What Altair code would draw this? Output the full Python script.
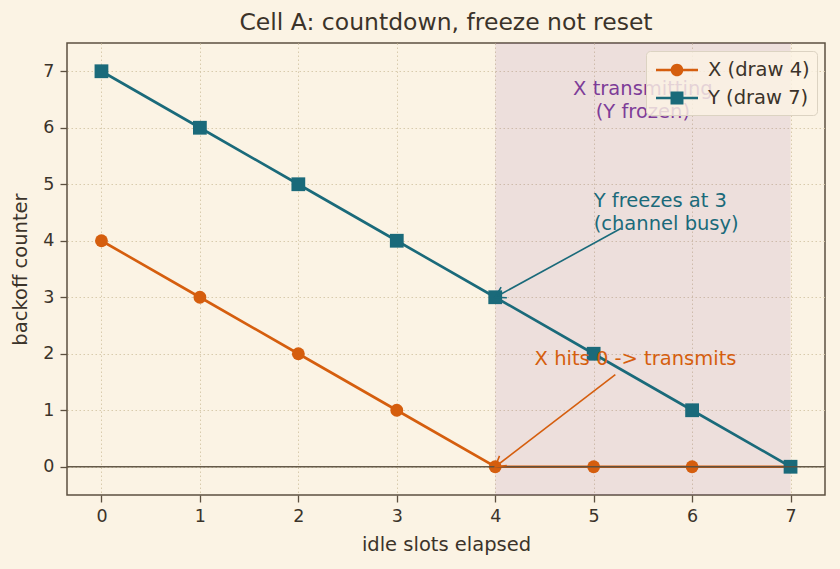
import math
import altair as alt
import pandas as pd

# ---------------- data ----------------
slots = [0, 1, 2, 3, 4, 5, 6, 7]
x_counter = [4, 3, 2, 1, 0, 0, 0, 0]
y_counter = [7, 6, 5, 4, 3, 2, 1, 0]
series_names = ["X (draw 4)", "Y (draw 7)"]
series_colors = ["#d55e0e", "#1a6a7a"]
tx_window = [4, 7]  # X transmitting, Y frozen

ann_text = ["X transmitting\n(Y frozen)", "Y freezes at 3\n(channel busy)", "X hits 0 -> transmits"]
ann_x = [5.5, 5.0, 4.4]
ann_y = [6.68, 4.70, 1.90]
ann_align = ["center", "left", "left"]
ann_color = ["#7d3c98", "#1a6a7a", "#d55e0e"]

arrow_x_from = [5.28, 5.22]
arrow_y_from = [4.22, 1.63]
arrow_x_to = [4, 4]
arrow_y_to = [3, 0]
arrow_color = ["#1a6a7a", "#d55e0e"]

x_ticks = [0, 1, 2, 3, 4, 5, 6, 7]
y_ticks = [0, 1, 2, 3, 4, 5, 6, 7]
x_domain = [-0.35, 7.35]
y_domain = [-0.5, 7.5]

# ---------------- style ----------------
W, H = 758, 452
BG = "#fbf3e4"
TXT = "#3b332a"
FRAME = "#5c5040"
FONT = "DejaVu Sans"
FS = 19.5

df = pd.DataFrame({
    "slot": slots * 2,
    "value": x_counter + y_counter,
    "series": [series_names[0]] * len(slots) + [series_names[1]] * len(slots),
    "col": [series_colors[0]] * len(slots) + [series_colors[1]] * len(slots),
})

xs = alt.Scale(domain=x_domain, nice=False, zero=False)
ys = alt.Scale(domain=y_domain, nice=False, zero=False)
cscale = alt.Scale(domain=series_names, range=series_colors)

X = alt.X("slot:Q", scale=xs,
          axis=alt.Axis(values=x_ticks, title="idle slots elapsed", format="d"))
Y = alt.Y("value:Q", scale=ys,
          axis=alt.Axis(values=y_ticks, title="backoff counter", format="d"))

# shaded window
span = alt.Chart(pd.DataFrame({"a": [tx_window[0]], "b": [tx_window[1]]})).mark_rect(
    color="#7d3c98", opacity=0.11
).encode(
    x=alt.X("a:Q", scale=xs, axis=alt.Axis(values=x_ticks, title="idle slots elapsed", format="d")),
    x2="b:Q",
    y=alt.value(0), y2=alt.value(H),
)

lines = alt.Chart(df).mark_line(strokeWidth=2.6).encode(
    x=X, y=Y, color=alt.Color("col:N", scale=None), detail="series:N"
)

pts_x = alt.Chart(df).transform_filter(alt.datum.series == series_names[0]).mark_point(
    filled=True, shape="circle", size=165, opacity=1
).encode(x=X, y=Y, color=alt.Color("col:N", scale=None))

pts_y = alt.Chart(df).transform_filter(alt.datum.series == series_names[1]).mark_point(
    filled=True, shape="square", size=190, opacity=1
).encode(x=X, y=Y, color=alt.Color("col:N", scale=None))

zero_rule = alt.Chart(pd.DataFrame({"z": [0]})).mark_rule(
    color=FRAME, strokeWidth=1.5, opacity=0.95
).encode(y=alt.Y("z:Q", scale=ys), x=alt.value(0), x2=alt.value(W))

# annotations text
text_layers = []
for t, ax_, ay_, al, col in zip(ann_text, ann_x, ann_y, ann_align, ann_color):
    tdf = pd.DataFrame({"t": [t.split("\n")], "x": [ax_], "y": [ay_]})
    text_layers.append(
        alt.Chart(tdf).mark_text(
            align=al, baseline="middle", font=FONT, fontSize=FS, color=col, lineHeight=23
        ).encode(x=alt.X("x:Q", scale=xs), y=alt.Y("y:Q", scale=ys), text="t")
    )

# arrows
sx = W / (x_domain[1] - x_domain[0])
sy = H / (y_domain[1] - y_domain[0])
angles = []
for x0, y0, x1, y1 in zip(arrow_x_from, arrow_y_from, arrow_x_to, arrow_y_to):
    a = math.degrees(math.atan2(-(y1 - y0) * sy, (x1 - x0) * sx)) % 360
    angles.append(a)
adf = pd.DataFrame({
    "x0": arrow_x_from, "y0": arrow_y_from, "x1": arrow_x_to, "y1": arrow_y_to,
    "c": arrow_color, "ang": angles,
})
arrow_lines = alt.Chart(adf).mark_rule(strokeWidth=1.6).encode(
    x=alt.X("x0:Q", scale=xs), y=alt.Y("y0:Q", scale=ys), x2="x1:Q", y2="y1:Q",
    color=alt.Color("c:N", scale=None),
)
arrow_heads = alt.Chart(adf).mark_point(
    shape="M-1,-0.6L0,0L-1,0.6", filled=False, size=400, strokeWidth=1.6, opacity=1
).encode(
    x=alt.X("x1:Q", scale=xs), y=alt.Y("y1:Q", scale=ys),
    color=alt.Color("c:N", scale=None), angle=alt.Angle("ang:Q", scale=None),
)

# legend (line + marker symbols) from an invisible layer
circle_path = ("M-0.75,-0.11L2.75,-0.11L2.75,0.11L-0.75,0.11Z "
               "M1.525,0A0.525,0.525 0 1 1 0.475,0A0.525,0.525 0 1 1 1.525,0Z")
square_path = ("M-0.75,-0.11L2.75,-0.11L2.75,0.11L-0.75,0.11Z "
               "M0.46,-0.54L1.54,-0.54L1.54,0.54L0.46,0.54Z")
leg = alt.Legend(
    title=None, orient="top-right", offset=8, padding=7,
    fillColor="rgba(251,243,228,0.82)", strokeColor="#dcd3c2", cornerRadius=4,
    labelFont=FONT, labelFontSize=FS, labelColor=TXT, labelOffset=31,
    symbolSize=576, symbolStrokeWidth=0, rowPadding=6, symbolOpacity=1,
)
legend_layer = alt.Chart(df).mark_point(
    filled=True, size=576, opacity=0
).encode(
    x=X, y=Y,
    color=alt.Color("series:N", scale=cscale, legend=leg),
    shape=alt.Shape("series:N", scale=alt.Scale(domain=series_names, range=[circle_path, square_path]), legend=leg),
)

chart = alt.layer(
    span, lines, pts_x, pts_y, zero_rule, arrow_lines, arrow_heads, *text_layers, legend_layer
).properties(
    width=W, height=H,
    background=BG,
    padding={"left": 67, "top": 43, "right": 15, "bottom": 74},
    autosize=alt.AutoSizeParams(type="none"),
    title=alt.TitleParams(
        "Cell A: countdown, freeze not reset", font=FONT, fontSize=23.5, fontWeight="normal",
        color=TXT, anchor="middle", baseline="alphabetic", offset=11, dy=21,
    ),
).configure_view(
    stroke=FRAME, strokeWidth=1.5, fill=BG
).configure_axis(
    domain=False, grid=True, gridColor="#d4c6a6", gridDash=[1.5, 2.5], gridWidth=0.9,
    ticks=True, tickColor=FRAME, tickSize=7, tickWidth=1.3,
    labelFont=FONT, labelFontSize=17.5, labelColor=TXT,
    titleFont=FONT, titleFontSize=FS, titleColor=TXT, titleFontWeight="normal",
).configure_axisX(
    labelPadding=5, titlePadding=11,
).configure_axisY(
    labelPadding=6, titlePadding=12,
)

chart.save("out.html", embed_options={"renderer": "svg", "actions": False})
